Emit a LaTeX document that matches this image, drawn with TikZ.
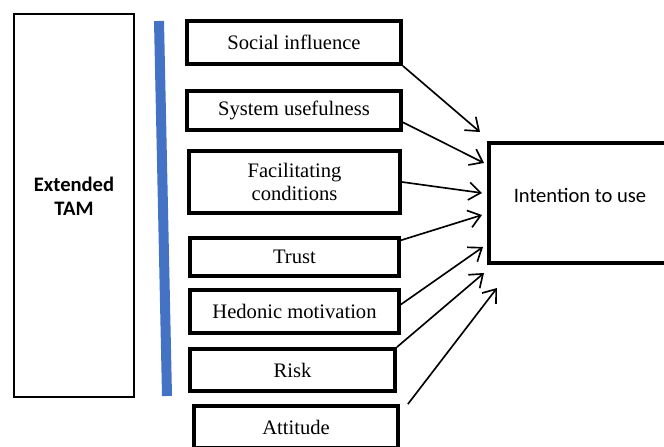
\documentclass[tikz,border=0pt]{standalone}
\usepackage{fontspec}
\setmainfont{Liberation Serif}
\newfontfamily\calibri{Carlito}
\usetikzlibrary{arrows.meta,calc}
\definecolor{barblue}{RGB}{68,114,196}
\begin{document}
\begin{tikzpicture}[x=0.85pt,y=-0.85pt,line join=miter,>={Straight Barb[length=10pt,width=15pt]},
    factor/.style={draw,line width=3.2pt,align=center,inner sep=0pt,font=\fontsize{17.5}{19}\selectfont},
    sanslabel/.style={align=center,inner sep=0pt,font=\calibri\fontsize{17.5}{20.5}\selectfont},
    arr/.style={->,line width=1.4pt}]
    \clip (0,0) rectangle (664,447);
    \node[draw,line width=1.7pt,minimum width=102pt,minimum height=325.6pt] (tam) at (74,205.5) {};
    \node[sanslabel,font=\calibri\bfseries\fontsize{17.5}{20.5}\selectfont] (tamtext) at ($(tam.center)+(0,-9)$) {Extended\\TAM};
    \draw[barblue,line width=8.5pt] (159,21)--(167,396);
    \node[factor,minimum width=181.9pt,minimum height=36.6pt] (soc) at (294,42.5) {Social influence};
    \node[factor,minimum width=181.9pt,minimum height=33.2pt] (sys) at (294,110.5) {System usefulness};
    \node[factor,minimum width=179.4pt,minimum height=52.7pt] (fac) at (294.5,182) {Facilitating\\conditions};
    \node[factor,minimum width=177.7pt,minimum height=32.3pt] (tru) at (294.5,257) {Trust};
    \node[factor,minimum width=177.7pt,minimum height=36.6pt] (hed) at (294.5,311.5) {Hedonic motivation};
    \node[factor,minimum width=174.3pt,minimum height=35.7pt] (rsk) at (292.5,370) {Risk};
    \node[factor,minimum width=173.4pt,minimum height=35.7pt] (att) at (296,427) {Attitude};
    \node[draw,line width=3.2pt,minimum width=154.7pt,minimum height=102pt] (itu) at (580,203) {};
    \node[sanslabel] (itutext) at ($(itu.center)+(0,-8)$) {Intention to use};
    \coordinate (t1) at (480,132);
    \coordinate (t2) at (484,163);
    \coordinate (t3) at (482,193);
    \coordinate (t4) at (482,215);
    \coordinate (t5) at (483,247);
    \coordinate (t6) at (484,273);
    \coordinate (t7) at (497,288);
    \draw[arr] (soc.south east)--(t1);
    \draw[arr] ($(sys.east)!0.55!(sys.south east)$)--(t2);
    \draw[arr] (fac.east)--(t3);
    \draw[arr] ($(tru.north east)!0.1!(tru.south east)$)--(t4);
    \draw[arr] ($(hed.north east)!0.35!(hed.south east)$)--(t5);
    \draw[arr] (rsk.north east)--(t6);
    \draw[arr] ($(att.north east)+(8,0)$)--(t7);
\end{tikzpicture}
\end{document}
